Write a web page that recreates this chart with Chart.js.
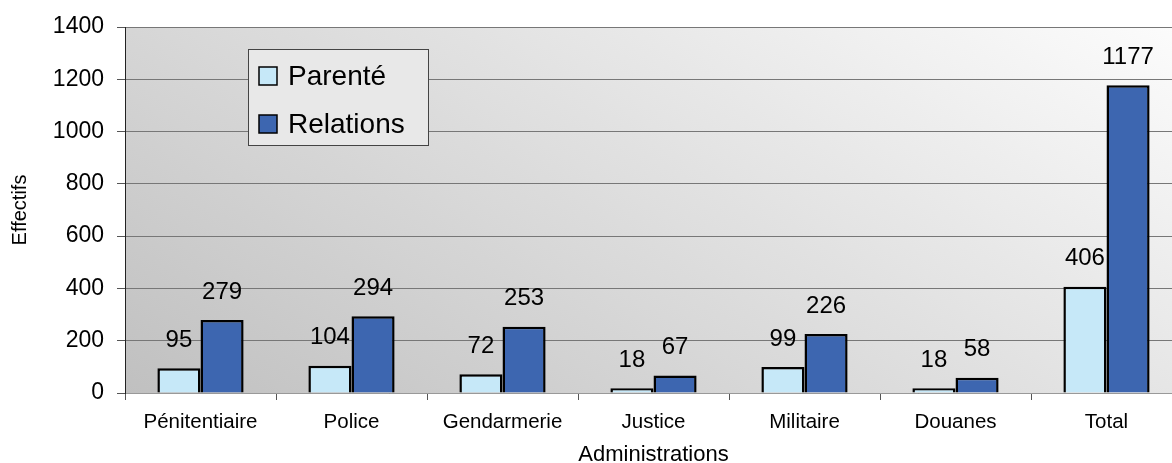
<!DOCTYPE html>
<html lang="fr">
<head>
<meta charset="utf-8">
<script src="https://cdn.jsdelivr.net/npm/chart.js@4.4.1/dist/chart.umd.min.js"></script>
<style>
    html, body { margin: 0; padding: 0; background: #fff; overflow: hidden; }
    #wrap { width: 1182px; height: 463px; }
</style>
</head>
<body>
<div id="wrap"><canvas id="chart" width="1182" height="463"></canvas></div>
<script>
// Data
const categories = ['Pénitentiaire', 'Police', 'Gendarmerie', 'Justice', 'Militaire', 'Douanes', 'Total'];
const parente = [95, 104, 72, 18, 99, 18, 406];
const relations = [279, 294, 253, 67, 226, 58, 1177];
const yMin = 0;
const yMax = 1400;
const yStep = 200;

const FONT = 'Liberation Sans, Arial, sans-serif';
Chart.defaults.font.family = FONT;
Chart.defaults.color = '#000';

// gradient behind the plot area (darker bottom-left, white top-right)
const plotBackground = {
    id: 'plotBackground',
    beforeDraw(chart) {
        const { ctx, chartArea: a } = chart;
        const g = ctx.createLinearGradient(a.left, a.bottom, a.left + 441, a.bottom - 735);
        g.addColorStop(0, '#c0c0c0');
        g.addColorStop(1, '#fcfcfc');
        ctx.save();
        ctx.fillStyle = g;
        ctx.fillRect(a.left, a.top, a.right - a.left, a.bottom - a.top);
        ctx.restore();
    }
};

// numbers above the bars
const valueLabels = {
    id: 'valueLabels',
    afterDatasetsDraw(chart) {
        const { ctx } = chart;
        ctx.save();
        ctx.font = '24px ' + FONT;
        ctx.fillStyle = '#000';
        ctx.textAlign = 'center';
        ctx.textBaseline = 'middle';
        chart.data.datasets.forEach((ds, i) => {
            chart.getDatasetMeta(i).data.forEach((bar, j) => {
                ctx.fillText(String(ds.data[j]), bar.x, bar.y - 28);
            });
        });
        ctx.restore();
    }
};

// boxed legend inside the plot
const boxLegend = {
    id: 'boxLegend',
    afterDraw(chart) {
        const { ctx } = chart;
        const x = 248, y = 49, w = 180, h = 96;
        ctx.save();
        ctx.fillStyle = '#e8e8e8';
        ctx.fillRect(x, y, w, h);
        ctx.strokeStyle = '#444';
        ctx.lineWidth = 1;
        ctx.strokeRect(x + 0.5, y + 0.5, w, h);
        ctx.font = '28px ' + FONT;
        ctx.textBaseline = 'middle';
        chart.data.datasets.forEach((ds, i) => {
            const cy = 76 + i * 48;
            ctx.fillStyle = ds.backgroundColor;
            ctx.fillRect(259, cy - 9, 18, 18);
            ctx.strokeStyle = '#000';
            ctx.lineWidth = 1.5;
            ctx.strokeRect(259, cy - 9, 18, 18);
            ctx.fillStyle = '#000';
            ctx.fillText(ds.label, 288, cy + 1);
        });
        ctx.restore();
    }
};

new Chart(document.getElementById('chart'), {
    type: 'bar',
    data: {
        labels: categories,
        datasets: [{
            label: 'Parenté',
            data: parente,
            backgroundColor: '#c6e8f8',
            borderColor: '#000',
            borderWidth: 2.5
        }, {
            label: 'Relations',
            data: relations,
            backgroundColor: '#3d66b0',
            borderColor: '#000',
            borderWidth: 2.5
        }]
    },
    options: {
        responsive: false,
        animation: false,
        devicePixelRatio: 1,
        categoryPercentage: 0.571,
        barPercentage: 1,
        layout: { padding: { top: 27, right: 0, bottom: 0, left: 0 } },
        plugins: {
            legend: { display: false },
            tooltip: { enabled: false }
        },
        scales: {
            x: {
                grid: {
                    display: true,
                    drawOnChartArea: false,
                    drawTicks: true,
                    tickLength: 7,
                    tickColor: '#555'
                },
                border: { color: '#999', width: 1 },
                ticks: { font: { size: 20.5 }, padding: 10, maxRotation: 0 },
                title: {
                    display: true,
                    text: 'Administrations',
                    font: { size: 22, lineHeight: 0.7 },
                    padding: { top: 0, bottom: 0 }
                },
                afterFit(scale) { scale.height = 70; }
            },
            y: {
                min: yMin,
                max: yMax,
                ticks: {
                    stepSize: yStep,
                    font: { size: 23 },
                    padding: 13,
                    callback: (v) => String(v)
                },
                grid: {
                    color: '#777',
                    lineWidth: 1,
                    tickLength: 8,
                    tickColor: '#555'
                },
                border: { color: '#222', width: 1 },
                title: {
                    display: true,
                    text: 'Effectifs',
                    font: { size: 20 },
                    padding: { top: 8, bottom: 0 }
                },
                afterFit(scale) { scale.width = 125; }
            }
        }
    },
    plugins: [plotBackground, valueLabels, boxLegend]
});
</script>
</body>
</html>
